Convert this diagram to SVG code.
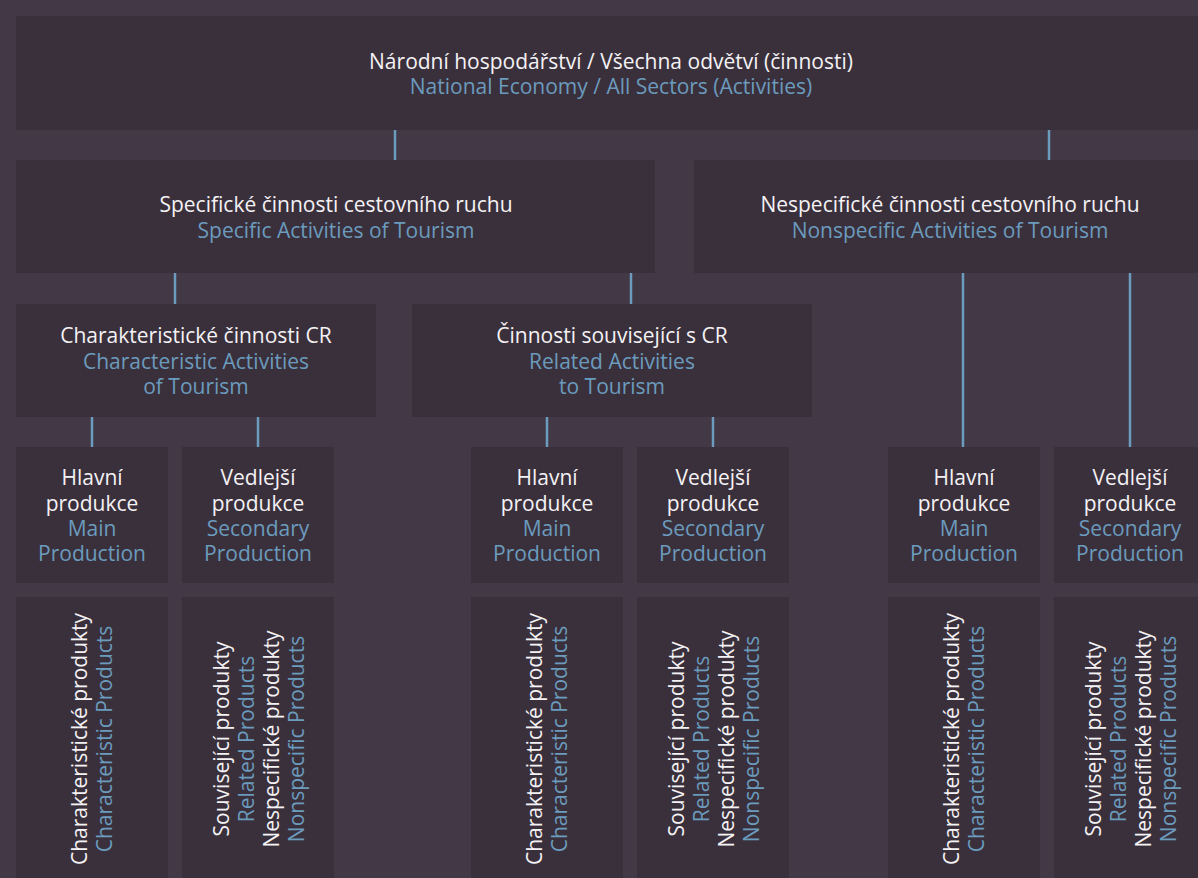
<svg xmlns="http://www.w3.org/2000/svg" width="1198" height="878" viewBox="0 0 1198 878">
<style>
.bg{fill:#433846}
.box{fill:#3a303c}
.c{stroke:#6b9bbd;stroke-width:2.5;fill:none}
text{font-family:"Open Sans","Noto Sans",sans-serif;font-size:21px;text-anchor:middle}
.w{fill:#f4f2f4}
.b{fill:#6b9bbd}
</style>
<rect class="bg" x="0" y="0" width="1198" height="878"/>
<g id="connectors">
<line class="c" x1="395" y1="130" x2="395" y2="160"/>
<line class="c" x1="1049" y1="130" x2="1049" y2="160"/>
<line class="c" x1="175" y1="273" x2="175" y2="304"/>
<line class="c" x1="631" y1="273" x2="631" y2="304"/>
<line class="c" x1="963" y1="273" x2="963" y2="447"/>
<line class="c" x1="1130" y1="273" x2="1130" y2="447"/>
<line class="c" x1="92" y1="417" x2="92" y2="447"/>
<line class="c" x1="258" y1="417" x2="258" y2="447"/>
<line class="c" x1="547" y1="417" x2="547" y2="447"/>
<line class="c" x1="713" y1="417" x2="713" y2="447"/>
</g>
<g id="n-top">
<rect class="box" x="16" y="16" width="1190" height="114"/>
<text class="w" x="611" y="69">Národní hospodářství / Všechna odvětví (činnosti)</text>
<text class="b" x="611" y="94">National Economy / All Sectors (Activities)</text>
</g>
<g id="n-spec">
<rect class="box" x="16" y="160" width="639" height="113"/>
<text class="w" x="336" y="212">Specifické činnosti cestovního ruchu</text>
<text class="b" x="336" y="238">Specific Activities of Tourism</text>
</g>
<g id="n-nonspec">
<rect class="box" x="694" y="160" width="512" height="113"/>
<text class="w" x="950" y="212">Nespecifické činnosti cestovního ruchu</text>
<text class="b" x="950" y="238">Nonspecific Activities of Tourism</text>
</g>
<g id="n-char">
<rect class="box" x="16" y="304" width="360" height="113"/>
<text class="w" x="196" y="343">Charakteristické činnosti CR</text>
<text class="b" x="196" y="369">Characteristic Activities</text>
<text class="b" x="196" y="394">of Tourism</text>
</g>
<g id="n-rel">
<rect class="box" x="412" y="304" width="400" height="113"/>
<text class="w" x="612" y="343">Činnosti související s CR</text>
<text class="b" x="612" y="369">Related Activities</text>
<text class="b" x="612" y="394">to Tourism</text>
</g>
<g id="n-main1">
<rect class="box" x="16" y="447" width="152" height="136"/>
<text class="w" x="92" y="485">Hlavní</text>
<text class="w" x="92" y="511">produkce</text>
<text class="b" x="92" y="536">Main</text>
<text class="b" x="92" y="561">Production</text>
</g>
<g id="n-sec1">
<rect class="box" x="182" y="447" width="152" height="136"/>
<text class="w" x="258" y="485">Vedlejší</text>
<text class="w" x="258" y="511">produkce</text>
<text class="b" x="258" y="536">Secondary</text>
<text class="b" x="258" y="561">Production</text>
</g>
<g id="n-main2">
<rect class="box" x="471" y="447" width="152" height="136"/>
<text class="w" x="547" y="485">Hlavní</text>
<text class="w" x="547" y="511">produkce</text>
<text class="b" x="547" y="536">Main</text>
<text class="b" x="547" y="561">Production</text>
</g>
<g id="n-sec2">
<rect class="box" x="637" y="447" width="152" height="136"/>
<text class="w" x="713" y="485">Vedlejší</text>
<text class="w" x="713" y="511">produkce</text>
<text class="b" x="713" y="536">Secondary</text>
<text class="b" x="713" y="561">Production</text>
</g>
<g id="n-main3">
<rect class="box" x="888" y="447" width="152" height="136"/>
<text class="w" x="964" y="485">Hlavní</text>
<text class="w" x="964" y="511">produkce</text>
<text class="b" x="964" y="536">Main</text>
<text class="b" x="964" y="561">Production</text>
</g>
<g id="n-sec3">
<rect class="box" x="1054" y="447" width="152" height="136"/>
<text class="w" x="1130" y="485">Vedlejší</text>
<text class="w" x="1130" y="511">produkce</text>
<text class="b" x="1130" y="536">Secondary</text>
<text class="b" x="1130" y="561">Production</text>
</g>
<g id="n-prod1">
<rect class="box" x="16" y="597" width="152" height="290"/>
<text class="w" transform="translate(87,739) rotate(-90)">Charakteristické produkty</text>
<text class="b" transform="translate(112,739) rotate(-90)">Characteristic Products</text>
</g>
<g id="n-prod2">
<rect class="box" x="182" y="597" width="152" height="290"/>
<text class="w" transform="translate(229,739) rotate(-90)">Související produkty</text>
<text class="b" transform="translate(254,739) rotate(-90)">Related Products</text>
<text class="w" transform="translate(279,739) rotate(-90)">Nespecifické produkty</text>
<text class="b" transform="translate(304,739) rotate(-90)">Nonspecific Products</text>
</g>
<g id="n-prod3">
<rect class="box" x="471" y="597" width="152" height="290"/>
<text class="w" transform="translate(542,739) rotate(-90)">Charakteristické produkty</text>
<text class="b" transform="translate(567,739) rotate(-90)">Characteristic Products</text>
</g>
<g id="n-prod4">
<rect class="box" x="637" y="597" width="152" height="290"/>
<text class="w" transform="translate(684,739) rotate(-90)">Související produkty</text>
<text class="b" transform="translate(709,739) rotate(-90)">Related Products</text>
<text class="w" transform="translate(734,739) rotate(-90)">Nespecifické produkty</text>
<text class="b" transform="translate(759,739) rotate(-90)">Nonspecific Products</text>
</g>
<g id="n-prod5">
<rect class="box" x="888" y="597" width="152" height="290"/>
<text class="w" transform="translate(959,739) rotate(-90)">Charakteristické produkty</text>
<text class="b" transform="translate(984,739) rotate(-90)">Characteristic Products</text>
</g>
<g id="n-prod6">
<rect class="box" x="1054" y="597" width="152" height="290"/>
<text class="w" transform="translate(1101,739) rotate(-90)">Související produkty</text>
<text class="b" transform="translate(1126,739) rotate(-90)">Related Products</text>
<text class="w" transform="translate(1151,739) rotate(-90)">Nespecifické produkty</text>
<text class="b" transform="translate(1176,739) rotate(-90)">Nonspecific Products</text>
</g>
</svg>
